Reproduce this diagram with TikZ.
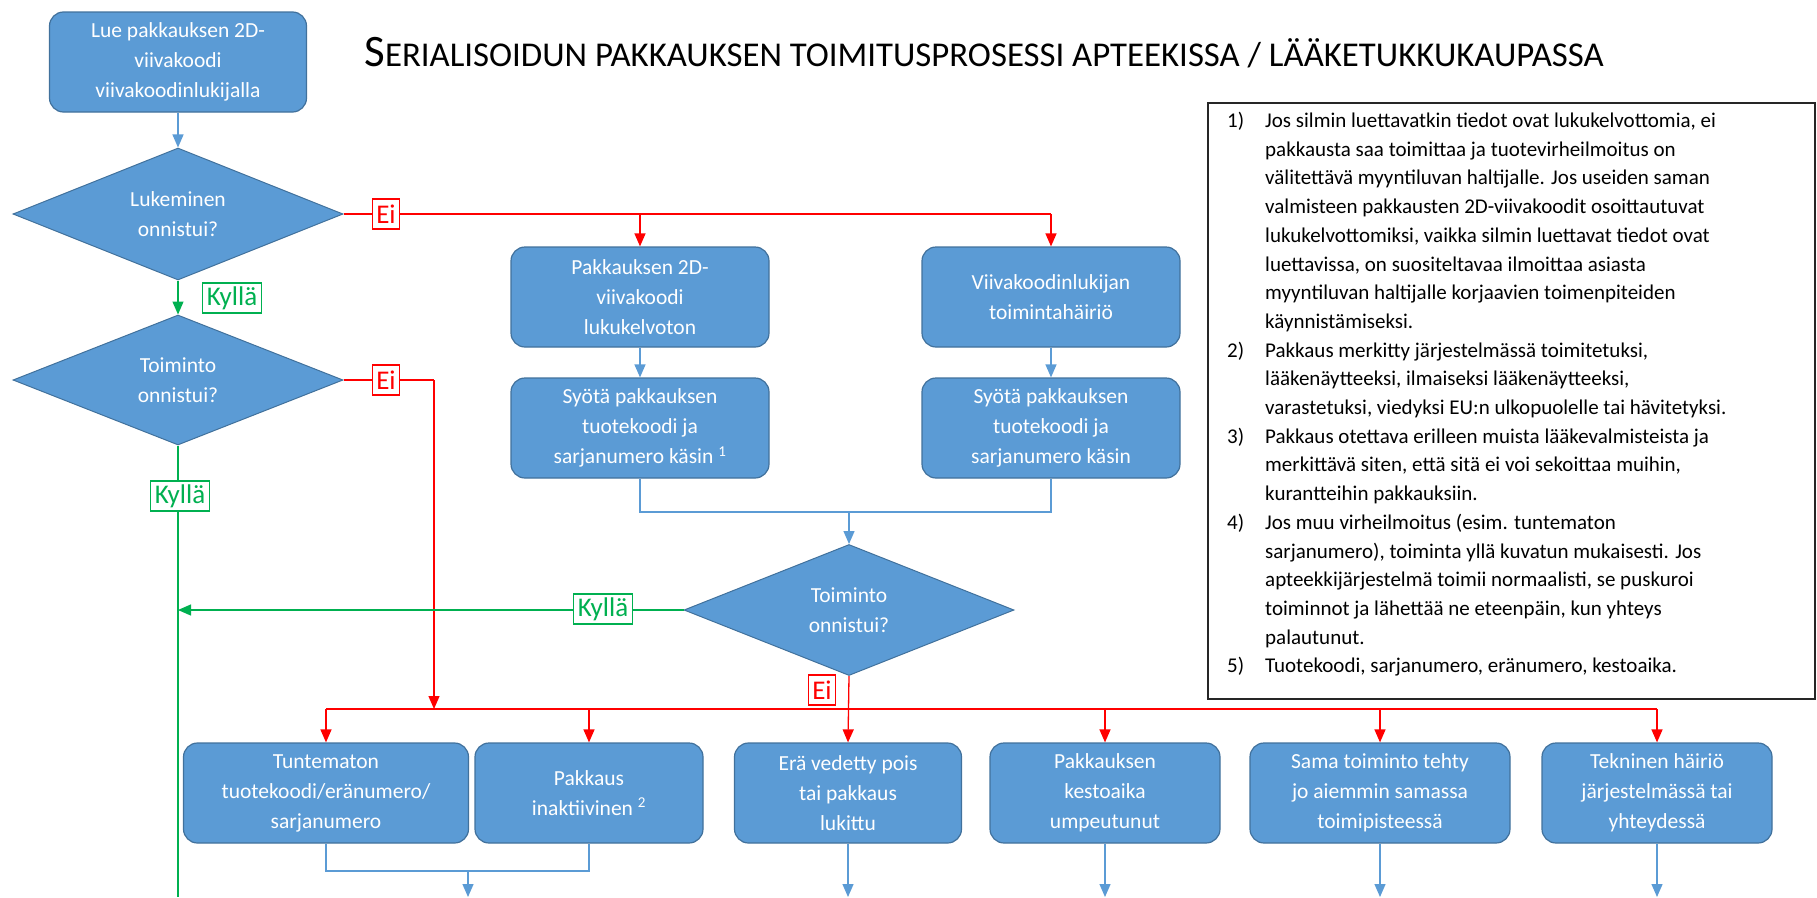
\documentclass[tikz,border=0pt]{standalone}
\usepackage{fontspec}
\setmainfont{Carlito}
\usetikzlibrary{shapes.geometric,arrows.meta,calc}
\definecolor{boxblue}{HTML}{5B9BD5}
\definecolor{boxedge}{HTML}{41719C}
\definecolor{lnblue}{HTML}{5B9BD5}
\definecolor{lnred}{HTML}{FF0000}
\definecolor{lngreen}{HTML}{00B050}
\begin{document}
\begin{tikzpicture}[x=1pt,y=-1pt,
 proc/.style={rectangle, rounded corners=14pt, fill=boxblue, draw=boxedge, line width=1.2pt, text=white, align=center, font=\fontsize{21.5}{30}\selectfont, minimum height=100pt, inner sep=2pt},
 dec/.style={diamond, aspect=2.5, fill=boxblue, draw=boxedge, line width=1pt, text=white, align=center, font=\fontsize{21.5}{30}\selectfont, minimum width=330pt, minimum height=132pt, inner sep=0pt},
 bl/.style={draw=lnblue, line width=1.3pt},
 rd/.style={draw=lnred, line width=1.3pt},
 gr/.style={draw=lngreen, line width=1.3pt},
 tip/.style={-{Triangle[length=13pt,width=11pt]}},
 lab/.style={rectangle, fill=white, line width=1.3pt, font=\fontsize{27}{27}\selectfont, inner xsep=4pt, inner ysep=1pt, minimum height=30pt},
 labg/.style={lab, draw=lngreen, text=lngreen},
 labr/.style={lab, draw=lnred, text=lnred},
]
\useasboundingbox (0,0) rectangle (1817,897);

% title
\node (title) at (984,53) {\fontsize{45}{45}\selectfont S\fontsize{34.8}{34.8}\selectfont ERIALISOIDUN PAKKAUKSEN TOIMITUSPROSESSI APTEEKISSA / LÄÄKETUKKUKAUPASSA};

% nodes
\node[proc, minimum width=257pt] (read) at (178,62) {Lue pakkauksen 2D-\\viivakoodi\\viivakoodinlukijalla};
\node[dec] (d1) at (178,214) {Lukeminen\\onnistui?};
\node[dec, minimum height=130pt] (d2) at (178,380) {Toiminto\\onnistui?};
\node[proc, minimum width=258pt] (unread) at (640,297) {Pakkauksen 2D-\\viivakoodi\\lukukelvoton};
\node[proc, minimum width=258pt] (fault) at (1051,297) {Viivakoodinlukijan\\toimintahäiriö};
\node[proc, minimum width=258pt] (man1) at (640,428) {Syötä pakkauksen\\tuotekoodi ja\\sarjanumero käsin \textsuperscript{1}};
\node[proc, minimum width=258pt] (man2) at (1051,428) {Syötä pakkauksen\\tuotekoodi ja\\sarjanumero käsin};
\node[dec, minimum height=131pt] (d3) at (849,610) {Toiminto\\onnistui?};

\node[proc, minimum width=285pt] (e1) at (326,793) {Tuntematon\\tuotekoodi/eränumero/\\sarjanumero};
\node[proc, minimum width=228pt] (e2) at (589,793) {Pakkaus\\inaktiivinen \textsuperscript{2}};
\node[proc, minimum width=227pt] (e3) at (848,793) {Erä vedetty pois\\tai pakkaus\\lukittu};
\node[proc, minimum width=230pt] (e4) at (1105,793) {Pakkauksen\\kestoaika\\umpeutunut};
\node[proc, minimum width=260pt] (e5) at (1380,793) {Sama toiminto tehty\\jo aiemmin samassa\\toimipisteessä};
\node[proc, minimum width=230pt] (e6) at (1657,793) {Tekninen häiriö\\järjestelmässä tai\\yhteydessä};

% coordinates
\coordinate (hub) at (434,709);
\coordinate (gbot) at (178,897);
\coordinate (m1) at (849,512);
\coordinate (m2) at (468,871);
\coordinate (b12) at (468,897);

% blue connectors
\draw[bl,tip] (read) -- (d1);
\draw[bl,tip] (unread) -- (man1);
\draw[bl,tip] (fault) -- (man2);
\draw[bl] (man1.south) |- (m1) -| (man2.south);
\draw[bl,tip] (m1) -- (d3.north);
\draw[bl] (e1.south) |- (m2) -| (e2.south);
\draw[bl,tip] (m2) -- (b12);
\foreach \n in {e3,e4,e5,e6} {\draw[bl,tip] (\n.south) -- (\n.south |- b12);}

% red connectors
\draw[rd] (d1.east) -- (fault.north |- d1.east);
\draw[rd,tip] (fault.north |- d1.east) -- (fault.north);
\draw[rd,tip] (unread.north |- d1.east) -- (unread.north);
\draw[rd] (d2.east) -- (d2.east -| hub);
\draw[rd,tip] (d2.east -| hub) -- (hub);
\draw[rd] (e1.north |- hub) -- (e6.north |- hub);
\foreach \n in {e1,e2,e4,e5,e6} {\draw[rd,tip] (\n.north |- hub) -- (\n.north);}
\draw[rd,tip] (d3.south) -- (e3.north);

% green connectors
\draw[gr,tip] (d1) -- (d2);
\draw[gr] (d2.south) -- (gbot);
\draw[gr,tip] (d3.west) -- (d3.west -| gbot);

% labels
\node[labr] (ei1) at (386,214) {Ei};
\node[labr] (ei2) at (386,380) {Ei};
\node[labr] (ei3) at (822,690) {Ei};
\node[labg] (ky1) at (232,298) {Kyllä};
\node[labg] (ky2) at (180,496) {Kyllä};
\node[labg] (ky3) at (603,609) {Kyllä};

% notes
\draw[line width=1.3pt, draw=black!85] (1208,103) rectangle (1815,699);
\node[anchor=north west, align=left, inner sep=0pt, font=\fontsize{21}{28.7}\selectfont] (notes) at (1227,112) {%
\makebox[38pt][l]{1)}Jos silmin luettavatkin tiedot ovat lukukelvottomia, ei\\
\hspace*{38pt}pakkausta saa toimittaa ja tuotevirheilmoitus on\\
\hspace*{38pt}välitettävä myyntiluvan haltijalle. Jos useiden saman\\
\hspace*{38pt}valmisteen pakkausten 2D-viivakoodit osoittautuvat\\
\hspace*{38pt}lukukelvottomiksi, vaikka silmin luettavat tiedot ovat\\
\hspace*{38pt}luettavissa, on suositeltavaa ilmoittaa asiasta\\
\hspace*{38pt}myyntiluvan haltijalle korjaavien toimenpiteiden\\
\hspace*{38pt}käynnistämiseksi.\\
\makebox[38pt][l]{2)}Pakkaus merkitty järjestelmässä toimitetuksi,\\
\hspace*{38pt}lääkenäytteeksi, ilmaiseksi lääkenäytteeksi,\\
\hspace*{38pt}varastetuksi, viedyksi EU:n ulkopuolelle tai hävitetyksi.\\
\makebox[38pt][l]{3)}Pakkaus otettava erilleen muista lääkevalmisteista ja\\
\hspace*{38pt}merkittävä siten, että sitä ei voi sekoittaa muihin,\\
\hspace*{38pt}kurantteihin pakkauksiin.\\
\makebox[38pt][l]{4)}Jos muu virheilmoitus (esim. tuntematon\\
\hspace*{38pt}sarjanumero), toiminta yllä kuvatun mukaisesti. Jos\\
\hspace*{38pt}apteekkijärjestelmä toimii normaalisti, se puskuroi\\
\hspace*{38pt}toiminnot ja lähettää ne eteenpäin, kun yhteys\\
\hspace*{38pt}palautunut.\\
\makebox[38pt][l]{5)}Tuotekoodi, sarjanumero, eränumero, kestoaika.};
\end{tikzpicture}
\end{document}
